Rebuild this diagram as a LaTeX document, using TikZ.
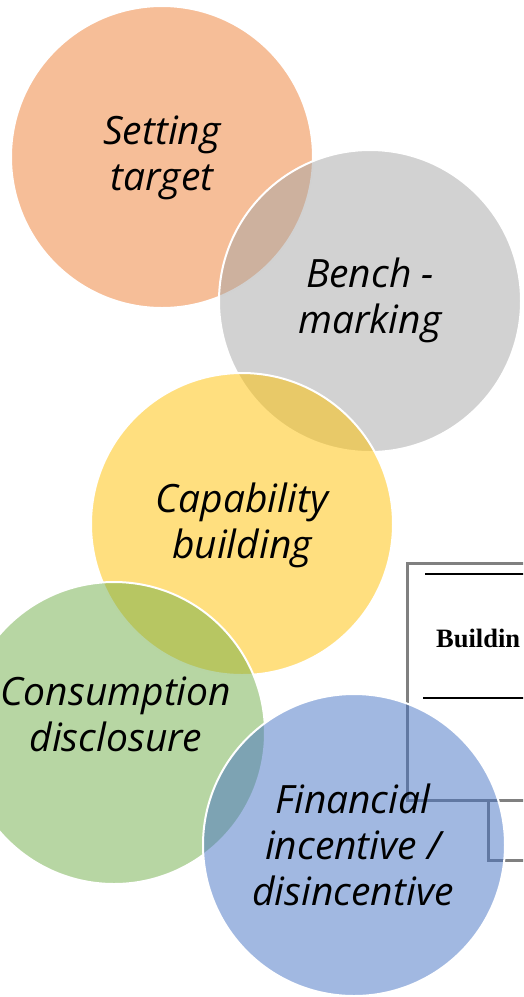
\documentclass[tikz,border=0pt]{standalone}
\usepackage{fontspec}
\setmainfont{Open Sans}
\newfontfamily\tnrfont{Liberation Serif}
\definecolor{cOrange}{HTML}{ED7D31}
\definecolor{cGray}{HTML}{A5A5A5}
\definecolor{cYellow}{HTML}{FFC000}
\definecolor{cGreen}{HTML}{70AD47}
\definecolor{cBlue}{HTML}{4472C4}
\definecolor{frameGray}{HTML}{808080}
\tikzset{
  bubble/.style={circle, minimum size=302pt, inner sep=0pt, fill opacity=0.5, draw=white, draw opacity=1, line width=2pt},
  bubtext/.style={align=center, font=\fontsize{39}{46}\selectfont\itshape, inner sep=0pt},
  framel/.style={draw=frameGray, line width=3pt},
  rulel/.style={draw=black, line width=1.3pt},
}
\begin{document}
\begin{tikzpicture}[x=1pt,y=-1pt]
\useasboundingbox (0,0) rectangle (523,997);
\clip (0,0) rectangle (523,997);
% table fragment
\coordinate (f1) at (530,563);
\coordinate (f2) at (407,563);
\coordinate (f3) at (407,800);
\coordinate (f4) at (530,800);
\coordinate (f5) at (488,800);
\coordinate (f6) at (488,860);
\coordinate (f7) at (530,860);
\draw[framel] (f1) -- (f2) -- (f3) -- (f4);
\draw[framel] (f5) -- (f6) -- (f7);
\coordinate (r1a) at (425,574);
\coordinate (r1b) at (530,574);
\coordinate (r2a) at (423,698);
\coordinate (r2b) at (530,698);
\draw[rulel] (r1a) -- (r1b);
\draw[rulel] (r2a) -- (r2b);
\node[anchor=base west, inner sep=0pt, font=\tnrfont\bfseries\fontsize{26.5}{30}\selectfont] (bld) at (436,647) {Buildin};
% circles
\node[bubble, fill=cOrange] (st) at (162,157) {};
\node[bubble, fill=cGray] (bm) at (370,301) {};
\node[bubble, fill=cYellow] (cb) at (242,524) {};
\node[bubble, fill=cGreen] (cd) at (114,733) {};
\node[bubble, fill=cBlue] (fi) at (354,845) {};
% texts
\node[bubtext] (stt) at (162,158) {Setting\\target};
\node[bubtext] (bmt) at (370,300) {Bench -\\marking};
\node[bubtext] (cbt) at (242,525) {Capability\\building};
\node[bubtext] (cdt) at (116,714) {Consumption\\disclosure};
\node[bubtext] (fit) at (353,845) {Financial\\incentive /\\disincentive};
\end{tikzpicture}
\end{document}
